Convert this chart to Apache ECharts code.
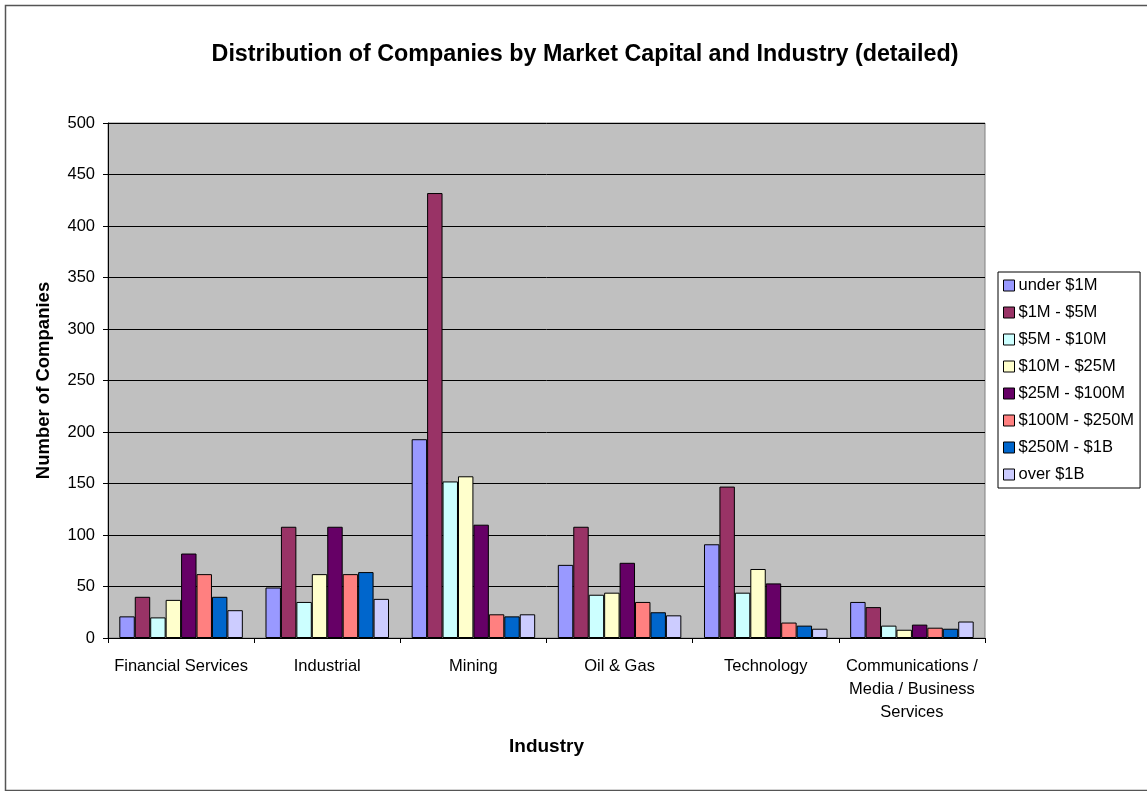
<!DOCTYPE html>
<html>
<head>
<meta charset="utf-8">
<script src="https://cdn.jsdelivr.net/npm/echarts@6/dist/echarts.min.js"></script>
<style>
  html, body { margin: 0; padding: 0; background: #fff; }
  #chart { width: 1147px; height: 791px; }
</style>
</head>
<body>
<div id="chart"></div>
<script>
// Industries along the x axis
const industries = [
  'Financial Services',
  'Industrial',
  'Mining',
  'Oil & Gas',
  'Technology',
  'Communications /\nMedia / Business\nServices'
];

// Market capital bands (one series each)
const bandNames = [
  'under $1M', '$1M - $5M', '$5M - $10M', '$10M - $25M',
  '$25M - $100M', '$100M - $250M', '$250M - $1B', 'over $1B'
];
const bandColors = [
  '#9999FF', '#993366', '#CCFFFF', '#FFFFCC',
  '#660066', '#FF8080', '#0066CC', '#CCCCFF'
];

// Company counts per band, in industry order
const underOneM      = [21, 49, 193, 71, 91, 35];
const oneToFiveM     = [40, 108, 432, 108, 147, 30];
const fiveToTenM     = [20, 35, 152, 42, 44, 12];
const tenToTwentyFiveM = [37, 62, 157, 44, 67, 8];
const twentyFiveToHundredM = [82, 108, 110, 73, 53, 13];
const hundredToTwoFiftyM = [62, 62, 23, 35, 15, 10];
const twoFiftyMToOneB = [40, 64, 21, 25, 12, 9];
const overOneB       = [27, 38, 23, 22, 9, 16];

const bandValues = [
  underOneM, oneToFiveM, fiveToTenM, tenToTwentyFiveM,
  twentyFiveToHundredM, hundredToTwoFiftyM, twoFiftyMToOneB, overOneB
];

// Value axis ticks
const yMin = 0, yMax = 500, yStep = 50;

const FONT = '"Liberation Sans", Arial, sans-serif';

const chart = echarts.init(document.getElementById('chart'));

const series = bandNames.map((name, i) => ({
  name: name,
  type: 'bar',
  data: bandValues[i],
  barGap: '0%',
  barCategoryGap: '15.5%',
  itemStyle: { color: bandColors[i], borderColor: '#000', borderWidth: 1 }
}));

chart.setOption({
  animation: false,
  textStyle: { fontFamily: FONT, color: '#000' },
  title: {
    text: 'Distribution of Companies by Market Capital and Industry (detailed)',
    left: 580, top: 38, textAlign: 'center',
    textStyle: { fontFamily: FONT, fontSize: 23.3, fontWeight: 'bold', color: '#000' }
  },
  legend: {
    orient: 'vertical',
    left: 998, top: 272,
    width: 144,
    padding: [5, 6, 5, 5],
    backgroundColor: '#fff',
    borderColor: '#000',
    borderWidth: 1,
    borderRadius: 0,
    itemWidth: 11, itemHeight: 11,
    itemGap: 10,
    icon: 'rect',
    itemStyle: { borderColor: '#000', borderWidth: 1 },
    textStyle: { fontFamily: FONT, fontSize: 16.5, color: '#000', padding: [0, 0, 0, -1], lineHeight: 16 },
    data: bandNames
  },
  grid: {
    left: 108, right: 162, top: 123, bottom: 153,
    show: true,
    backgroundColor: '#C0C0C0',
    borderColor: '#808080',
    borderWidth: 1
  },
  xAxis: {
    type: 'category',
    data: industries,
    name: 'Industry',
    nameLocation: 'middle',
    nameGap: 99,
    nameTextStyle: { fontFamily: FONT, fontSize: 19, fontWeight: 'bold', color: '#000' },
    axisLine: { lineStyle: { color: '#000', width: 1 } },
    axisTick: { show: true, length: 5, lineStyle: { color: '#000' } },
    axisLabel: {
      fontFamily: FONT, fontSize: 16.5, color: '#000',
      margin: 17, lineHeight: 23, interval: 0
    },
    splitLine: { show: false }
  },
  yAxis: {
    type: 'value',
    min: yMin, max: yMax, interval: yStep,
    name: 'Number of Companies',
    nameLocation: 'middle',
    nameGap: 55,
    nameTextStyle: { fontFamily: FONT, fontSize: 18.5, fontWeight: 'bold', color: '#000' },
    axisLine: { show: true, lineStyle: { color: '#000', width: 1 } },
    axisTick: { show: true, length: 5, lineStyle: { color: '#000' } },
    axisLabel: { fontFamily: FONT, fontSize: 16.5, color: '#000', margin: 13 },
    splitLine: { show: true, lineStyle: { color: '#000', width: 1 } }
  },
  graphic: [{
    type: 'rect',
    shape: { x: 5.5, y: 5.5, width: 1160, height: 785 },
    style: { fill: null, stroke: '#555', lineWidth: 1.5 },
    silent: true,
    z: -1
  }],
  series: series
});
</script>
</body>
</html>
